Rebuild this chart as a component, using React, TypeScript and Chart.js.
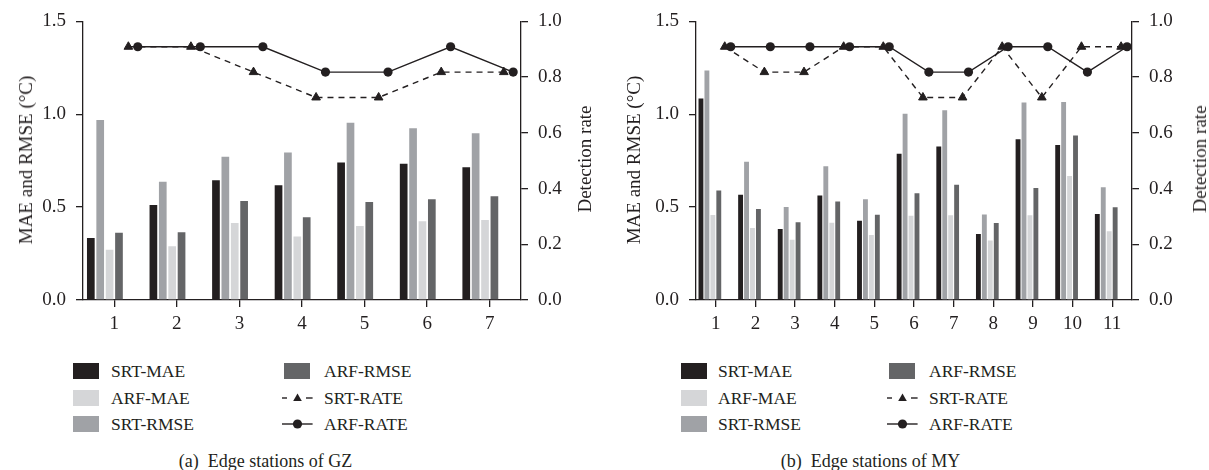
import React, { useEffect, useRef } from 'react';
import { Chart, registerables } from 'chart.js';

Chart.register(...registerables);

// ---------- Data ----------
const GZ_STATIONS = ['1', '2', '3', '4', '5', '6', '7'];
const GZ_SRT_MAE = [0.334, 0.512, 0.645, 0.618, 0.740, 0.733, 0.715];
const GZ_SRT_RMSE = [0.969, 0.637, 0.771, 0.794, 0.954, 0.925, 0.898];
const GZ_ARF_MAE = [0.271, 0.289, 0.415, 0.342, 0.398, 0.424, 0.431];
const GZ_ARF_RMSE = [0.362, 0.365, 0.533, 0.445, 0.528, 0.542, 0.558];
const GZ_SRT_RATE = [0.909, 0.909, 0.818, 0.727, 0.727, 0.818, 0.818];
const GZ_ARF_RATE = [0.909, 0.909, 0.909, 0.818, 0.818, 0.909, 0.818];

const MY_STATIONS = ['1', '2', '3', '4', '5', '6', '7', '8', '9', '10', '11'];
const MY_SRT_MAE = [1.085, 0.567, 0.382, 0.562, 0.427, 0.787, 0.826, 0.355, 0.866, 0.834, 0.463];
const MY_SRT_RMSE = [1.235, 0.745, 0.501, 0.720, 0.542, 1.003, 1.022, 0.461, 1.064, 1.066, 0.607];
const MY_ARF_MAE = [0.458, 0.387, 0.324, 0.416, 0.350, 0.454, 0.456, 0.321, 0.456, 0.668, 0.370];
const MY_ARF_RMSE = [0.589, 0.490, 0.418, 0.531, 0.459, 0.575, 0.621, 0.414, 0.603, 0.886, 0.499];
const MY_SRT_RATE = [0.909, 0.818, 0.818, 0.909, 0.909, 0.727, 0.727, 0.909, 0.727, 0.909, 0.909];
const MY_ARF_RATE = [0.909, 0.909, 0.909, 0.909, 0.909, 0.818, 0.818, 0.909, 0.909, 0.818, 0.909];

const LEFT_TICKS = [0, 0.5, 1.0, 1.5];
const RIGHT_TICKS = [0, 0.2, 0.4, 0.6, 0.8, 1.0];

const LEFT_TITLE = 'MAE and RMSE (°C)';
const RIGHT_TITLE = 'Detection rate';

// ---------- Styles ----------
const FONT = '"Liberation Serif", "Times New Roman", serif';
const INK = '#231f20';
const COL_SRT_MAE = '#231f20';
const COL_SRT_RMSE = '#a0a2a6';
const COL_ARF_MAE = '#d5d6d8';
const COL_ARF_RMSE = '#646567';

// each station group holds 6 slots: 4 bar series then the 2 rate series
const SLOTS = 6;
const GROUP_PCT = 0.9;
const BAR_PCT = 0.82;
const slotOffset = (k: number) => ((k + 0.5 - SLOTS / 2) * GROUP_PCT) / SLOTS;

const CANVAS_H = 340;
const PLOT_TOP = 21;
const PLOT_BOTTOM = 300;
const TICK_LEN = 7;

type PanelProps = {
  left: number;
  width: number;
  categories: string[];
  srtMae: number[];
  srtRmse: number[];
  arfMae: number[];
  arfRmse: number[];
  srtRate: number[];
  arfRate: number[];
  leftAxisW: number;
  rightAxisW: number;
};

function Panel(p: PanelProps) {
  const ref = useRef<HTMLCanvasElement | null>(null);
  useEffect(() => {
    if (!ref.current) return;
    const n = p.categories.length;
    const toPts = (vals: number[], k: number) => vals.map((v, i) => ({ x: i + slotOffset(k), y: v }));
    const tickFont = { family: FONT, size: 19 };
    const bar = (label: string, vals: number[], k: number, color: string) => ({
      type: 'bar' as const,
      label,
      data: toPts(vals, k),
      backgroundColor: color,
      borderWidth: 0,
      xAxisID: 'xl',
      yAxisID: 'y',
      grouped: false,
      barPercentage: BAR_PCT,
      categoryPercentage: 1,
      order: 10,
    });
    const chart = new Chart(ref.current, {
      type: 'bar',
      data: {
        labels: p.categories,
        datasets: [
          bar('SRT-MAE', p.srtMae, 0, COL_SRT_MAE),
          bar('SRT-RMSE', p.srtRmse, 1, COL_SRT_RMSE),
          bar('ARF-MAE', p.arfMae, 2, COL_ARF_MAE),
          bar('ARF-RMSE', p.arfRmse, 3, COL_ARF_RMSE),
          {
            type: 'line',
            label: 'SRT-RATE',
            data: toPts(p.srtRate, 4),
            xAxisID: 'xl',
            yAxisID: 'y1',
            borderColor: INK,
            borderWidth: 1.4,
            borderDash: [6, 5],
            tension: 0,
            pointStyle: 'triangle',
            pointRadius: 5,
            pointBackgroundColor: INK,
            pointBorderColor: INK,
            pointBorderWidth: 1,
            order: 1,
          } as any,
          {
            type: 'line',
            label: 'ARF-RATE',
            data: toPts(p.arfRate, 5),
            xAxisID: 'xl',
            yAxisID: 'y1',
            borderColor: INK,
            borderWidth: 1.4,
            tension: 0,
            pointStyle: 'circle',
            pointRadius: 4.6,
            pointBackgroundColor: INK,
            pointBorderColor: INK,
            pointBorderWidth: 0,
            order: 0,
          } as any,
        ],
      },
      options: {
        animation: false,
        responsive: false,
        maintainAspectRatio: false,
        events: [],
        layout: { padding: { top: PLOT_TOP, left: 0, right: 0, bottom: 0 } },
        plugins: { legend: { display: false }, tooltip: { enabled: false } },
        scales: {
          x: {
            type: 'category',
            offset: true,
            grid: {
              display: true,
              drawOnChartArea: false,
              drawTicks: true,
              tickLength: TICK_LEN,
              color: INK,
              lineWidth: 1.3,
              offset: false,
            },
            border: { display: true, color: INK, width: 1.3 },
            ticks: { font: tickFont, color: INK, padding: 6, maxRotation: 0, autoSkip: false },
            afterFit: (s: any) => {
              s.height = CANVAS_H - PLOT_BOTTOM;
            },
          },
          xl: {
            type: 'linear',
            display: false,
            offset: false,
            bounds: 'data',
            grid: { offset: false },
            min: -0.5,
            max: n - 0.5,
          },
          y: {
            position: 'left',
            min: LEFT_TICKS[0],
            max: LEFT_TICKS[LEFT_TICKS.length - 1],
            afterBuildTicks: (s: any) => {
              s.ticks = LEFT_TICKS.map((v) => ({ value: v }));
            },
            ticks: { font: tickFont, color: INK, padding: 10, callback: (v: any) => Number(v).toFixed(1) },
            grid: { drawOnChartArea: false, drawTicks: true, tickLength: TICK_LEN, color: INK, lineWidth: 1.3 },
            border: { display: true, color: INK, width: 1.3 },
            afterFit: (s: any) => {
              s.width = p.leftAxisW;
            },
          },
          y1: {
            position: 'right',
            min: RIGHT_TICKS[0],
            max: RIGHT_TICKS[RIGHT_TICKS.length - 1],
            afterBuildTicks: (s: any) => {
              s.ticks = RIGHT_TICKS.map((v) => ({ value: v }));
            },
            ticks: { font: tickFont, color: INK, padding: 10, callback: (v: any) => Number(v).toFixed(1) },
            grid: { drawOnChartArea: false, drawTicks: true, tickLength: TICK_LEN, color: INK, lineWidth: 1.3 },
            border: { display: true, color: INK, width: 1.3 },
            afterFit: (s: any) => {
              s.width = p.rightAxisW;
            },
          },
        },
      } as any,
    });
    return () => chart.destroy();
  }, []);
  return (
    <canvas
      ref={ref}
      width={p.width}
      height={CANVAS_H}
      style={{ position: 'absolute', left: p.left, top: 0, width: p.width, height: CANVAS_H, display: 'block' }}
    />
  );
}

function VText({ text, cx, cy }: { text: string; cx: number; cy: number }) {
  return (
    <div
      style={{
        position: 'absolute',
        left: cx,
        top: cy,
        transform: 'translate(-50%, -50%) rotate(-90deg)',
        whiteSpace: 'nowrap',
        fontFamily: FONT,
        fontSize: 19,
        color: INK,
        lineHeight: '22px',
      }}
    >
      {text}
    </div>
  );
}

function Swatch({ kind, color }: { kind: string; color?: string }) {
  if (kind === 'box') {
    return <div style={{ width: 26, height: 16, background: color }} />;
  }
  if (kind === 'dash') {
    return (
      <svg width={31} height={16} style={{ display: 'block' }}>
        <line x1={0} y1={8} x2={5} y2={8} stroke={INK} strokeWidth={1.4} />
        <polygon points="15.5,3.5 19.8,11 11.2,11" fill={INK} />
        <line x1={24} y1={8} x2={30.6} y2={8} stroke={INK} strokeWidth={1.4} />
      </svg>
    );
  }
  return (
    <svg width={31} height={16} style={{ display: 'block' }}>
      <line x1={0} y1={8} x2={30.6} y2={8} stroke={INK} strokeWidth={1.4} />
      <circle cx={15.5} cy={8} r={4.6} fill={INK} />
    </svg>
  );
}

function LegendItem({ x, textX, y, kind, color, label }: any) {
  return (
    <>
      <div style={{ position: 'absolute', left: x, top: y - 8 }}>
        <Swatch kind={kind} color={color} />
      </div>
      <div
        style={{
          position: 'absolute',
          left: textX,
          top: y,
          transform: 'translateY(-50%)',
          fontFamily: FONT,
          fontSize: 17.5,
          color: INK,
          whiteSpace: 'nowrap',
          lineHeight: '20px',
        }}
      >
        {label}
      </div>
    </>
  );
}

const LEGEND_ROWS = [371, 397.7, 424];

function Legend({ x1, t1, x2, t2 }: { x1: number; t1: number; x2: number; t2: number }) {
  return (
    <>
      <LegendItem x={x1} textX={t1} y={LEGEND_ROWS[0]} kind="box" color={COL_SRT_MAE} label="SRT-MAE" />
      <LegendItem x={x1} textX={t1} y={LEGEND_ROWS[1]} kind="box" color={COL_ARF_MAE} label="ARF-MAE" />
      <LegendItem x={x1} textX={t1} y={LEGEND_ROWS[2]} kind="box" color={COL_SRT_RMSE} label="SRT-RMSE" />
      <LegendItem x={x2} textX={t2} y={LEGEND_ROWS[0]} kind="box" color={COL_ARF_RMSE} label="ARF-RMSE" />
      <LegendItem x={x2 - 2.5} textX={t2} y={LEGEND_ROWS[1]} kind="dash" label="SRT-RATE" />
      <LegendItem x={x2 - 2.5} textX={t2} y={LEGEND_ROWS[2]} kind="line" label="ARF-RATE" />
    </>
  );
}

function Caption({ cx, text }: { cx: number; text: string }) {
  return (
    <div
      style={{
        position: 'absolute',
        left: cx,
        top: 461,
        transform: 'translate(-50%, -50%)',
        fontFamily: FONT,
        fontSize: 18,
        color: INK,
        whiteSpace: 'pre',
        lineHeight: '22px',
      }}
    >
      {text}
    </div>
  );
}

export default function App() {
  return (
    <div
      style={{
        position: 'absolute',
        left: 0,
        top: 0,
        width: 1209,
        height: 470,
        background: '#ffffff',
        overflow: 'hidden',
      }}
    >
      <Panel
        left={0}
        width={600}
        categories={GZ_STATIONS}
        srtMae={GZ_SRT_MAE}
        srtRmse={GZ_SRT_RMSE}
        arfMae={GZ_ARF_MAE}
        arfRmse={GZ_ARF_RMSE}
        srtRate={GZ_SRT_RATE}
        arfRate={GZ_ARF_RATE}
        leftAxisW={83}
        rightAxisW={79}
      />
      <Panel
        left={600}
        width={609}
        categories={MY_STATIONS}
        srtMae={MY_SRT_MAE}
        srtRmse={MY_SRT_RMSE}
        arfMae={MY_ARF_MAE}
        arfRmse={MY_ARF_RMSE}
        srtRate={MY_SRT_RATE}
        arfRate={MY_ARF_RATE}
        leftAxisW={96}
        rightAxisW={77}
      />
      <VText text={LEFT_TITLE} cx={26} cy={160} />
      <VText text={RIGHT_TITLE} cx={585} cy={159} />
      <VText text={LEFT_TITLE} cx={634} cy={160} />
      <VText text={RIGHT_TITLE} cx={1200} cy={159} />
      <Legend x1={73} t1={111} x2={284} t2={324} />
      <Legend x1={681} t1={718} x2={889} t2={929} />
      <Caption cx={265.5} text={'(a)\u2002Edge stations of GZ'} />
      <Caption cx={870.5} text={'(b)\u2002Edge stations of MY'} />
    </div>
  );
}
